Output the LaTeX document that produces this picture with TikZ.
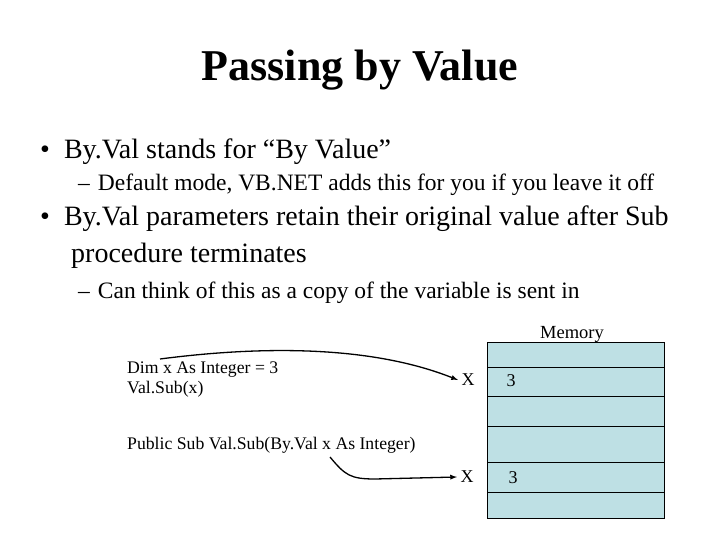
\documentclass[tikz,border=0pt]{standalone}
\usepackage{fontspec}
\setmainfont{Liberation Serif}
\definecolor{memfill}{RGB}{190,224,228}
\begin{document}
\begin{tikzpicture}[x=1pt,y=-1pt,
  txt/.style={anchor=west,inner sep=0pt},
  arr/.style={-latex,line width=1.3pt},
  cell/.style={draw,fill=memfill,line width=0.6pt}]
\useasboundingbox (0,0) rectangle (720,540);
\node[font=\bfseries\fontsize{44}{48}\selectfont] (title) at (360,70) {Passing by Value};
\node[txt,font=\fontsize{28}{32}\selectfont] (b1) at (40,152) {•\hspace{14pt}By.Val stands for “By Value”};
\node[txt,font=\fontsize{23.5}{26}\selectfont] (s1) at (78,185) {–\hspace{8pt}Default mode, VB.NET adds this for you if you leave it off};
\node[txt,font=\fontsize{28}{32}\selectfont] (b2) at (40,219) {•\hspace{14pt}By.Val parameters retain their original value after Sub};
\node[txt,font=\fontsize{28}{32}\selectfont] (b2b) at (71,256) {procedure terminates};
\node[txt,font=\fontsize{23.5}{26}\selectfont] (s2) at (78,293) {–\hspace{8pt}Can think of this as a copy of the variable is sent in};
\foreach \a/\b [count=\i] in {342/367,367/396,396/426,426/462,462/492,492/518}
  \path[cell] (487,\a) rectangle (664,\b) coordinate (c\i);
\node[font=\fontsize{18.5}{20}\selectfont] (mem) at (572,334) {Memory};
\node[txt,font=\fontsize{17.7}{20}\selectfont,align=left] (code1) at (127,380) {Dim x As Integer = 3\\Val.Sub(x)};
\node[txt,font=\fontsize{17.7}{20}\selectfont] (code2) at (127,445) {Public Sub Val.Sub(By.Val x As Integer)};
\node[font=\fontsize{18}{20}\selectfont] (x1) at (468,380) {X};
\node[font=\fontsize{18}{20}\selectfont] (v1) at (511,381) {3};
\node[font=\fontsize{18}{20}\selectfont] (x2) at (467,477) {X};
\node[font=\fontsize{18}{20}\selectfont] (v2) at (513,478) {3};
\coordinate (a1) at (160,359);
\coordinate (a2) at (330,457);
\draw[arr] (a1) .. controls (260,346) and (370,345) .. (x1.west);
\draw[arr] (a2) .. controls (345,475) and (350,479) .. (375,479) -- (x2.west);
\end{tikzpicture}
\end{document}
